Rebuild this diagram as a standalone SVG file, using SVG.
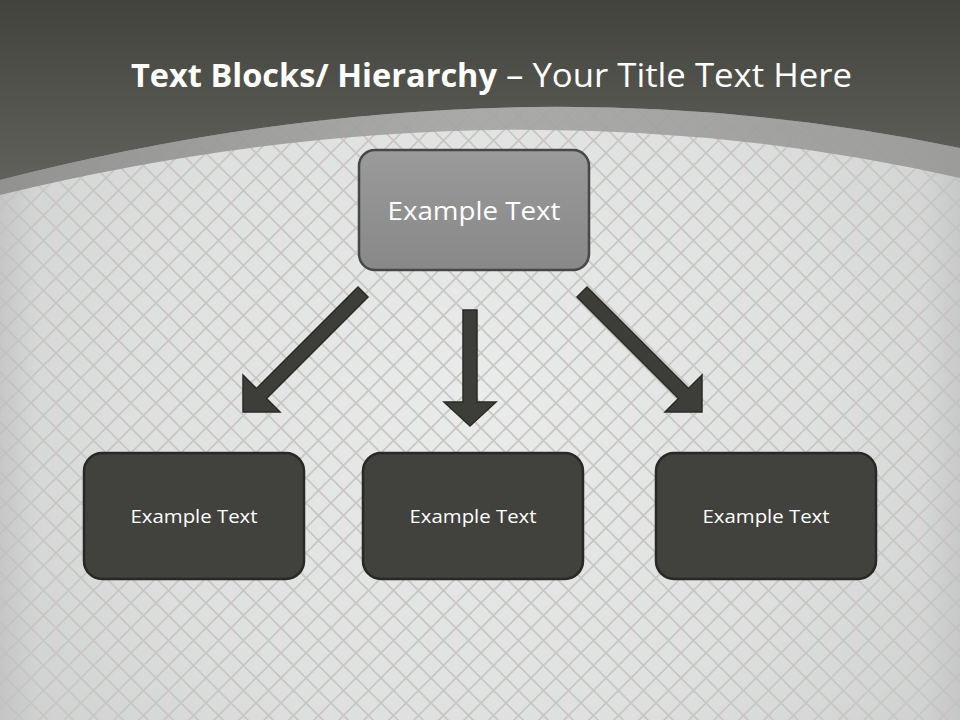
<svg xmlns="http://www.w3.org/2000/svg" width="960" height="720" viewBox="0 0 960 720">
<defs>
<radialGradient id="bgGrad" cx="480" cy="400" r="560" gradientUnits="userSpaceOnUse">
<stop offset="0" stop-color="#eaecec"/>
<stop offset="0.6" stop-color="#dfe0e0"/>
<stop offset="1" stop-color="#cfd0d0"/>
</radialGradient>
<linearGradient id="edgeGrad" x1="0" y1="0" x2="1" y2="0">
<stop offset="0" stop-color="#bdbdbd" stop-opacity="0.6"/>
<stop offset="0.04" stop-color="#bdbdbd" stop-opacity="0"/>
<stop offset="0.96" stop-color="#bdbdbd" stop-opacity="0"/>
<stop offset="1" stop-color="#bdbdbd" stop-opacity="0.5"/>
</linearGradient>
<pattern id="lattice" patternUnits="userSpaceOnUse" width="25" height="25" x="6" y="3">
<path d="M-3,-3 L28,28 M28,-3 L-3,28" stroke="#c9c6c4" stroke-width="1.8" fill="none"/>
</pattern>
<linearGradient id="topGrad" x1="0" y1="0" x2="0" y2="1">
<stop offset="0" stop-color="#43433e"/>
<stop offset="1" stop-color="#60615b"/>
</linearGradient>
<linearGradient id="bandGrad" x1="0" y1="0" x2="1" y2="0">
<stop offset="0" stop-color="#8c8d8a"/>
<stop offset="0.5" stop-color="#a4a4a2"/>
<stop offset="1" stop-color="#979895"/>
</linearGradient>
<linearGradient id="topBoxGrad" x1="0" y1="0" x2="0" y2="1">
<stop offset="0" stop-color="#9a9a9a"/>
<stop offset="1" stop-color="#888888"/>
</linearGradient>
<style>
.lbl { font-family: "Open Sans", "Liberation Sans", sans-serif; fill: #ffffff; text-anchor: middle; }
.box { fill: #41413d; stroke: #282826; stroke-width: 2.5; }
.arrow { fill: #3d3d39; stroke: #2a2a27; stroke-width: 1.5; stroke-linejoin: miter; }
.title { font-family: "Open Sans", "Liberation Sans", sans-serif; fill: #ffffff; font-size: 33px; }
</style>
</defs>

<!-- background -->
<rect x="0" y="0" width="960" height="720" fill="url(#bgGrad)"/>
<rect x="0" y="0" width="960" height="720" fill="url(#lattice)"/>
<rect x="0" y="0" width="960" height="720" fill="url(#edgeGrad)"/>

<!-- arc band -->
<path d="M0,180 Q500,52 960,148 L960,178 Q500,73.5 0,195 Z" fill="url(#bandGrad)" opacity="0.9"/>
<!-- top dark header -->
<path d="M0,0 H960 V148 Q500,52 0,180 Z" fill="url(#topGrad)"/>

<!-- title -->
<text class="title" x="131" y="87" font-weight="bold" textLength="366" lengthAdjust="spacingAndGlyphs">Text Blocks/ Hierarchy</text>
<text class="title" x="506" y="87" textLength="346" lengthAdjust="spacingAndGlyphs">– Your Title Text Here</text>

<!-- connectors -->
<g id="connectors">
<polygon class="arrow" points="358,287 368,297 266.5,398.5 280,412 243,412 243,375 256.5,388.5"/>
<polygon class="arrow" points="463,310 477,310 477,402 496,402 470,426 444,402 463,402"/>
<polygon class="arrow" points="587,287 577,297 678.5,398.5 665,412 702,412 702,375 688.5,388.5"/>
</g>

<g id="node-top">
<rect x="359" y="150" width="230" height="120" rx="16" ry="16" fill="url(#topBoxGrad)" stroke="#474747" stroke-width="2.5"/>
<text class="lbl" x="474" y="220" font-size="25" textLength="173" lengthAdjust="spacingAndGlyphs">Example Text</text>
</g>

<g id="node-left">
<rect class="box" x="84" y="453" width="220" height="126" rx="18" ry="18"/>
<text class="lbl" x="194" y="523" font-size="19" textLength="127" lengthAdjust="spacingAndGlyphs">Example Text</text>
</g>

<g id="node-center">
<rect class="box" x="363" y="453" width="220" height="126" rx="18" ry="18"/>
<text class="lbl" x="473" y="523" font-size="19" textLength="127" lengthAdjust="spacingAndGlyphs">Example Text</text>
</g>

<g id="node-right">
<rect class="box" x="656" y="453" width="220" height="126" rx="18" ry="18"/>
<text class="lbl" x="766" y="523" font-size="19" textLength="127" lengthAdjust="spacingAndGlyphs">Example Text</text>
</g>
</svg>
